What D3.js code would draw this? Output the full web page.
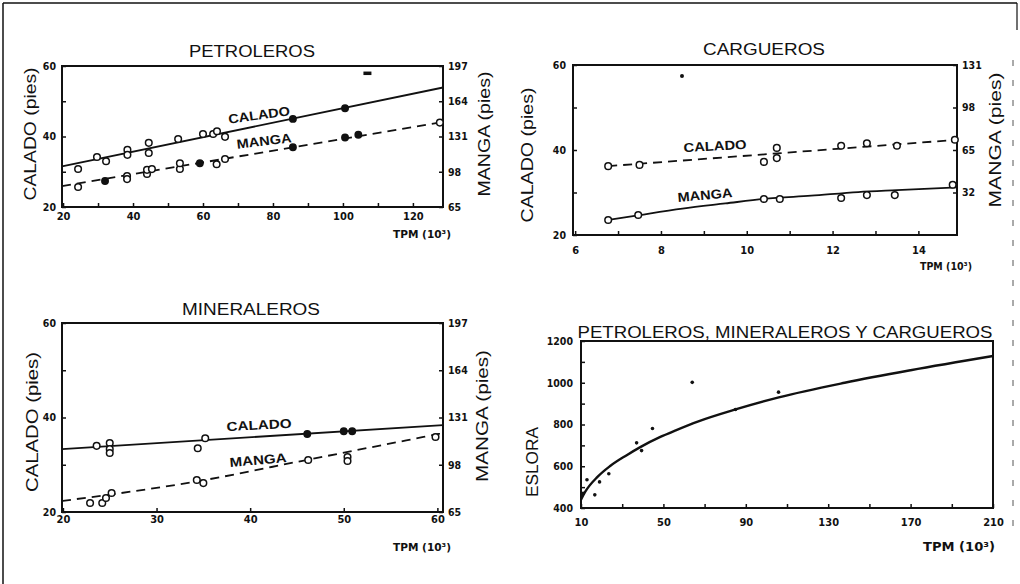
<!DOCTYPE html>
<html><head><meta charset="utf-8">
<script src="https://cdn.jsdelivr.net/npm/d3@7"></script>
<style>
html,body{margin:0;padding:0;background:#fff;}
svg{display:block;}
text{fill:#111;}
</style></head>
<body>
<script>
// ---------- DATA ----------
// PETROLEROS
const petXTicks = [20,30,40,50,60,70,80,90,100,110,120];
const petXLabels = [20,40,60,80,100,120];
const petYTicks = [20,30,40,50,60];
const petYLabels = [20,40,60];
const petY2Ticks = [65,98,131,164,197];
const petCaladoX = [24.3,29.7,32.3,38.4,38.4,44.5,44.5,52.9,60,62.9,64,66.3,85.7,100.6];
const petCaladoY = [30.8,34.2,33,36.2,34.8,38.2,35.3,39.3,40.7,40.7,41.5,39.9,45,48];
const petCaladoFill = [0,0,0,0,0,0,0,0,0,0,0,0,1,1];
const petCaladoFitX = [19.7,128.6];
const petCaladoFitY = [31.5,53.9];
const petMangaX = [24.3,32,38.3,38.3,44,44,45.4,53.4,53.4,59.1,63.9,66.3,85.7,100.6,104.4,127.7];
const petMangaY = [83.7,89.3,94,91.1,96,99.8,100.5,100.6,106,106,105,110,121,130,132.7,144];
const petMangaFill = [0,1,0,0,0,0,0,0,0,1,0,0,1,1,1,0];
const petMangaFitX = [19.7,128.6];
const petMangaFitY = [84.5,144.6];
const petOutlier = [[107,58]];

// CARGUEROS
const carXTicks = [6,7,8,9,10,11,12,13,14];
const carXLabels = [6,8,10,12,14];
const carYTicks = [20,30,40,50,60];
const carYLabels = [20,40,60];
const carY2Ticks = [32,65,98,131];
const carCaladoX = [6.77,7.5,10.4,10.7,10.7,12.2,12.8,13.5,14.85];
const carCaladoY = [36.2,36.5,37.2,40.5,38.1,41,41.6,41,42.4];
const carCaladoFitX = [6.77,14.9];
const carCaladoFitY = [36.2,42.4];
const carMangaX = [6.77,7.47,10.4,10.77,12.2,12.8,13.45,14.8];
const carMangaY = [10.7,14.5,27,27,27.7,30,30,38];
const carMangaFitX = [6.77,7.5,8.5,9.5,10.4,11.5,12.6,13.5,14.9];
const carMangaFitY = [10.7,14.5,19.5,23.5,27,29.5,32.3,33.8,36];
const carOutlier = [[8.49,57.4]];

// MINERALEROS
const minXTicks = [20,30,40,50,60];
const minXLabels = [20,30,40,50,60];
const minYTicks = [20,30,40,50,60];
const minYLabels = [20,40,60];
const minY2Ticks = [65,98,131,164,197];
const minCaladoX = [23.6,25,25,25,34.4,35.2,46.1,50,50.9];
const minCaladoY = [34,34.6,33.3,32.5,33.5,35.6,36.5,37.1,37.1];
const minCaladoFill = [0,0,0,0,0,0,1,1,1];
const minCaladoFitX = [19.9,60.6];
const minCaladoFitY = [33.3,38.4];
const minMangaX = [22.9,24.2,24.6,25.2,34.3,35,46.2,50.4,50.4,59.8];
const minMangaY = [71.3,71.3,74.8,78.3,87.3,85.2,101.3,103.4,100.6,117.4];
const minMangaFitX = [19.9,34.5,46,60.6];
const minMangaFitY = [72.7,86.6,101.3,120.1];

// PETROLEROS, MINERALEROS Y CARGUEROS (ESLORA)
const eslXTicks = [10,30,50,70,90,110,130,150,170,190,210];
const eslXLabels = [10,50,90,130,170,210];
const eslYTicks = [400,500,600,700,800,900,1000,1100,1200];
const eslYLabels = [400,600,800,1000,1200];
const eslCurveX = [10,12,18,24,32,39,48,56,67,85,106,138,170,210];
const eslCurveY = [440,477,549,600,652,693,738,772,815,872,930,1000,1060,1128];
const eslDotX = [11,12.9,16.7,19,23.5,37,39.4,44.7,64,85,105.9];
const eslDotY = [470,535,463,525,564,712,675,781,1002,872,955];

// ---------- DRAW ----------
const W = 1020, H = 584;
const svg = d3.select('body').append('svg').attr('width', W).attr('height', H);
svg.append('rect').attr('width', W).attr('height', H).attr('fill', '#fff');
const INK = '#111';
const FONT = "'Liberation Sans', Arial, sans-serif";
const NARROW = "'Liberation Sans Narrow', 'DejaVu Sans Condensed', 'Liberation Sans', sans-serif";

// outer frame
svg.append('line').attr('x1',3).attr('y1',3).attr('x2',1017).attr('y2',3).attr('stroke',INK).attr('stroke-width',1.5);
svg.append('line').attr('x1',3).attr('y1',3).attr('x2',3).attr('y2',H).attr('stroke',INK).attr('stroke-width',1.5);
svg.append('line').attr('x1',1017).attr('y1',3).attr('x2',1017).attr('y2',30).attr('stroke',INK).attr('stroke-width',1.2);
svg.append('line').attr('x1',1013).attr('y1',60).attr('x2',1013).attr('y2',540).attr('stroke','#555').attr('stroke-width',1).attr('stroke-dasharray','6,14');

const zip = (a,b) => a.map((v,i)=>[v,b[i]]);

function panel(c) {
  const g = svg.append('g');
  const x = d3.scaleLinear().domain(c.xDomain).range([c.l, c.r]);
  const y = d3.scaleLinear().domain(c.yDomain).range([c.b, c.t]);
  const y2 = c.y2Domain ? d3.scaleLinear().domain(c.y2Domain).range([c.b, c.t]) : null;

  const styleAxis = (sel, size) => {
    sel.select('.domain').remove();
    sel.selectAll('.tick line').attr('stroke', INK).attr('stroke-width', 1.5);
    sel.selectAll('.tick text').attr('font-family', NARROW).attr('font-weight','bold')
       .attr('font-size', size).attr('fill', INK);
  };
  const xa = d3.axisBottom(x).tickValues(c.xTicks).tickSize(-4).tickPadding(c.xPad)
      .tickFormat(d => c.xLabels.includes(d) ? d : '');
  g.append('g').attr('transform', `translate(0,${c.b})`).call(xa).call(s=>styleAxis(s, 11));
  const ya = d3.axisLeft(y).tickValues(c.yTicks).tickSize(-4).tickPadding(c.yPad)
      .tickFormat(d => c.yLabels.includes(d) ? d : '');
  g.append('g').attr('transform', `translate(${c.l},0)`).call(ya).call(s=>styleAxis(s, 10.5));
  if (y2) {
    const y2a = d3.axisRight(y2).tickValues(c.y2Ticks).tickSize(-4).tickPadding(5);
    g.append('g').attr('transform', `translate(${c.r},0)`).call(y2a).call(s=>styleAxis(s, 10.5));
  }
  // box
  g.append('rect').attr('x', c.l).attr('y', c.t).attr('width', c.r - c.l).attr('height', c.b - c.t)
    .attr('fill', 'none').attr('stroke', INK).attr('stroke-width', 2);

  // series
  (c.series || []).forEach(s => {
    const sc = s.axis === 2 ? y2 : y;
    const line = d3.line().x(d => x(d[0])).y(d => sc(d[1])).curve(s.curve || d3.curveLinear);
    g.append('path').datum(zip(s.fitX, s.fitY)).attr('d', line).attr('fill', 'none')
      .attr('stroke', INK).attr('stroke-width', s.width || 1.8)
      .attr('stroke-dasharray', s.dash || null);
    if (s.px) {
      g.selectAll(null).data(zip(s.px, s.py).map((d,i)=>({d, f: s.fill ? s.fill[i] : 0})))
        .join('circle').attr('cx', o => x(o.d[0])).attr('cy', o => sc(o.d[1]))
        .attr('r', o => o.f ? 3.2 : 3.3)
        .attr('fill', o => o.f ? INK : '#fff').attr('stroke', INK).attr('stroke-width', 1.5);
    }
  });
  (c.dots || []).forEach(d => {
    g.append('circle').attr('cx', x(d[0])).attr('cy', y(d[1])).attr('r', d[2] || 1.8).attr('fill', INK);
  });
  (c.dashMarks || []).forEach(d => {
    g.append('rect').attr('x', x(d[0]) - 4).attr('y', y(d[1]) - 1.5).attr('width', 8).attr('height', 3.5).attr('fill', INK);
  });

  // title
  g.append('text').attr('x', c.title.x).attr('y', c.title.y).attr('text-anchor', 'middle')
    .attr('font-family', FONT).attr('font-size', c.title.size)
    .attr('textLength', c.title.len).attr('lengthAdjust', 'spacingAndGlyphs').text(c.title.text);
  // axis titles
  c.vLabels.forEach(v => {
    g.append('text').attr('transform', `translate(${v.x},${v.y}) rotate(-90)`).attr('text-anchor', 'middle')
      .attr('dominant-baseline', 'central')
      .attr('font-family', FONT).attr('font-size', v.size)
      .attr('textLength', v.len).attr('lengthAdjust', 'spacingAndGlyphs').text(v.text);
  });
  g.append('text').attr('x', c.tpm.x).attr('y', c.tpm.y).attr('font-family', NARROW).attr('font-weight', 'bold')
    .attr('font-size', c.tpm.size).attr('textLength', c.tpm.len).attr('lengthAdjust','spacingAndGlyphs').text('TPM (10³)');
  (c.seriesLabels || []).forEach(l => {
    g.append('text').attr('transform', `translate(${l.x},${l.y}) rotate(${l.rot})`).attr('text-anchor', 'middle')
      .attr('dominant-baseline', 'central')
      .attr('font-family', FONT).attr('font-weight', 'bold').attr('font-size', 13)
      .attr('textLength', l.len).attr('lengthAdjust', 'spacingAndGlyphs').text(l.text);
  });
}

// Panel 1: PETROLEROS
panel({
  l: 62, r: 443, t: 66, b: 207,
  xDomain: [19.7, 128.6], yDomain: [20, 60], y2Domain: [65, 197],
  xTicks: petXTicks, xLabels: petXLabels, yTicks: petYTicks, yLabels: petYLabels, y2Ticks: petY2Ticks,
  xPad: 5, yPad: 6,
  series: [
    {fitX: petCaladoFitX, fitY: petCaladoFitY, px: petCaladoX, py: petCaladoY, fill: petCaladoFill, axis: 1},
    {fitX: petMangaFitX, fitY: petMangaFitY, px: petMangaX, py: petMangaY, fill: petMangaFill, axis: 2, dash: '9,6'}
  ],
  dashMarks: petOutlier,
  title: {text: 'PETROLEROS', x: 252, y: 57, size: 16, len: 126},
  vLabels: [{text: 'CALADO (pies)', x: 30, y: 134, size: 17, len: 133},
            {text: 'MANGA (pies)', x: 484, y: 134, size: 16, len: 125}],
  tpm: {x: 393, y: 238, size: 11, len: 58},
  seriesLabels: [{text: 'CALADO', x: 259, y: 115, rot: -8, len: 62},
                 {text: 'MANGA', x: 264, y: 141, rot: -7, len: 55}]
});

// Panel 2: CARGUEROS
panel({
  l: 573, r: 957, t: 65, b: 235,
  xDomain: [5.95, 14.9], yDomain: [20, 60], y2Domain: [-1, 131],
  xTicks: carXTicks, xLabels: carXLabels, yTicks: carYTicks, yLabels: carYLabels, y2Ticks: carY2Ticks,
  xPad: 11, yPad: 7,
  series: [
    {fitX: carCaladoFitX, fitY: carCaladoFitY, px: carCaladoX, py: carCaladoY, axis: 1, dash: '9,6'},
    {fitX: carMangaFitX, fitY: carMangaFitY, px: carMangaX, py: carMangaY, axis: 2, curve: d3.curveMonotoneX}
  ],
  dots: carOutlier.map(d => [d[0], d[1], 2]),
  title: {text: 'CARGUEROS', x: 764, y: 55, size: 16, len: 122},
  vLabels: [{text: 'CALADO (pies)', x: 527, y: 155, size: 17, len: 135},
            {text: 'MANGA (pies)', x: 995, y: 140, size: 16, len: 135}],
  tpm: {x: 920, y: 270, size: 11, len: 52},
  seriesLabels: [{text: 'CALADO', x: 715, y: 146, rot: -3, len: 63},
                 {text: 'MANGA', x: 705, y: 195, rot: -5, len: 55}]
});

// Panel 3: MINERALEROS
panel({
  l: 62, r: 443, t: 323, b: 512,
  xDomain: [19.9, 60.6], yDomain: [20, 60], y2Domain: [65, 197],
  xTicks: minXTicks, xLabels: minXLabels, yTicks: minYTicks, yLabels: minYLabels, y2Ticks: minY2Ticks,
  xPad: 3, yPad: 6,
  series: [
    {fitX: minCaladoFitX, fitY: minCaladoFitY, px: minCaladoX, py: minCaladoY, fill: minCaladoFill, axis: 1},
    {fitX: minMangaFitX, fitY: minMangaFitY, px: minMangaX, py: minMangaY, axis: 2, dash: '9,6', curve: d3.curveMonotoneX}
  ],
  title: {text: 'MINERALEROS', x: 251, y: 315, size: 16, len: 138},
  vLabels: [{text: 'CALADO (pies)', x: 32, y: 422, size: 17, len: 140},
            {text: 'MANGA (pies)', x: 482, y: 416, size: 16, len: 132}],
  tpm: {x: 393, y: 551, size: 11, len: 58},
  seriesLabels: [{text: 'CALADO', x: 259, y: 425, rot: -3, len: 65},
                 {text: 'MANGA', x: 258, y: 460, rot: -5, len: 57}]
});

// Panel 4: ESLORA
panel({
  l: 581, r: 993, t: 341, b: 508,
  xDomain: [10, 210], yDomain: [400, 1200],
  xTicks: eslXTicks, xLabels: eslXLabels, yTicks: eslYTicks, yLabels: eslYLabels,
  xPad: 10, yPad: 8,
  series: [
    {fitX: eslCurveX, fitY: eslCurveY, axis: 1, curve: d3.curveMonotoneX, width: 2.4}
  ],
  dots: zip(eslDotX, eslDotY),
  title: {text: 'PETROLEROS, MINERALEROS Y CARGUEROS', x: 785, y: 338, size: 17, len: 415},
  vLabels: [{text: 'ESLORA', x: 532, y: 462, size: 16, len: 70}],
  tpm: {x: 923, y: 551, size: 12, len: 72},
  seriesLabels: []
});
</script>
</body></html>
